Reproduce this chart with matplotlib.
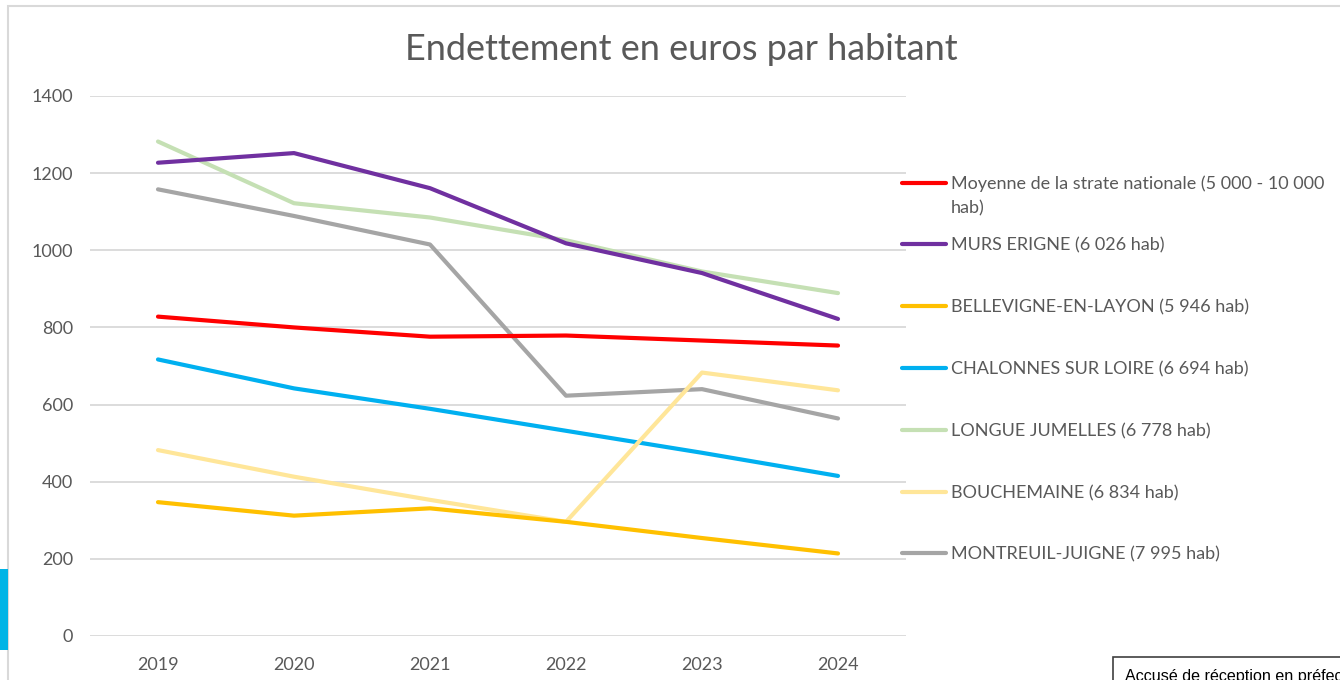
import matplotlib.pyplot as plt
from matplotlib.lines import Line2D
from matplotlib.patches import Rectangle

plt.rcParams["font.family"] = ["Lato", "DejaVu Sans"]

# Data
years = ["2019", "2020", "2021", "2022", "2023", "2024"]

moyenne_strate = [828, 800, 776, 779, 766, 753]
murs_erigne = [1227, 1252, 1161, 1018, 941, 822]
bellevigne = [347, 312, 331, 296, 254, 214]
chalonnes = [717, 642, 589, 532, 475, 415]
longue_jumelles = [1282, 1122, 1085, 1026, 945, 889]
bouchemaine = [482, 413, 353, 296, 683, 637]
montreuil_juigne = [1158, 1089, 1015, 623, 640, 564]

labels = [
    "Moyenne de la strate nationale (5 000 - 10 000\nhab)",
    "MURS ERIGNE (6 026 hab)",
    "BELLEVIGNE-EN-LAYON (5 946 hab)",
    "CHALONNES SUR LOIRE (6 694 hab)",
    "LONGUE JUMELLES (6 778 hab)",
    "BOUCHEMAINE (6 834 hab)",
    "MONTREUIL-JUIGNE (7 995 hab)",
]
series = [moyenne_strate, murs_erigne, bellevigne, chalonnes,
          longue_jumelles, bouchemaine, montreuil_juigne]
colors = ["#FF0000", "#7030A0", "#FFC000", "#00B0F0",
          "#C5E0B4", "#FFE699", "#A5A5A5"]

W, H = 1340, 680
fig = plt.figure(figsize=(W / 100, H / 100), dpi=100)


def fx(px):
    return px / W


def fy(py):
    return 1 - py / H


ax = fig.add_axes([fx(90), fy(636), fx(906) - fx(90), fy(96) - fy(636)])

# draw order so the grey and light lines sit like in the reference
order = [4, 1, 6, 0, 3, 5, 2]
x = range(len(years))
for i in order:
    ax.plot(x, series[i], color=colors[i], lw=3.0, solid_capstyle="round",
            solid_joinstyle="round", zorder=3)

ax.set_xlim(-0.5, len(years) - 0.5)
ax.set_ylim(0, 1400)
ax.set_yticks(range(0, 1401, 200))
ax.set_xticks(list(x))
ax.set_xticklabels(years)
ax.grid(axis="y", color="#D9D9D9", lw=1.3, zorder=0)
ax.set_axisbelow(True)
for s in ax.spines.values():
    s.set_visible(False)
ax.tick_params(axis="both", length=0, labelsize=13, colors="#595959")
ax.tick_params(axis="y", pad=12)
ax.tick_params(axis="x", pad=15)

fig.text(fx(681), fy(49), "Endettement en euros par habitant", ha="center",
         va="center", fontsize=26, color="#595959")

# legend drawn at the right, like Excel lays it out
leg_y = [183, 244, 306, 368, 430, 492, 553]
for lab, col, py in zip(labels, colors, leg_y):
    fig.add_artist(Line2D([fx(902), fx(946)], [fy(py), fy(py)], color=col,
                          lw=3.0, solid_capstyle="round",
                          transform=fig.transFigure))
    for k, line in enumerate(lab.split("\n")):
        fig.text(fx(951), fy(py + 1 + 24 * k), line, ha="left", va="center",
                 fontsize=13, color="#595959")

# outer chart frame and page decorations
fig.add_artist(Rectangle((fx(8), fy(700)), fx(1400), fy(6) - fy(700),
                         fill=False, ec="#D9D9D9", lw=1.5,
                         transform=fig.transFigure))
fig.add_artist(Rectangle((0, fy(650)), fx(8), fy(569) - fy(650),
                         fc="#00B4E6", ec="none", transform=fig.transFigure))
fig.add_artist(Rectangle((fx(1113), fy(700)), fx(300), fy(657) - fy(700),
                         fill=False, ec="#404040", lw=1.2,
                         transform=fig.transFigure))
fig.text(fx(1125), fy(669), "Accusé de réception en préfecture",
         ha="left", va="top", fontsize=11.6, color="black",
         family=["Liberation Sans", "DejaVu Sans"])

fig.savefig("out.png", dpi=100)
